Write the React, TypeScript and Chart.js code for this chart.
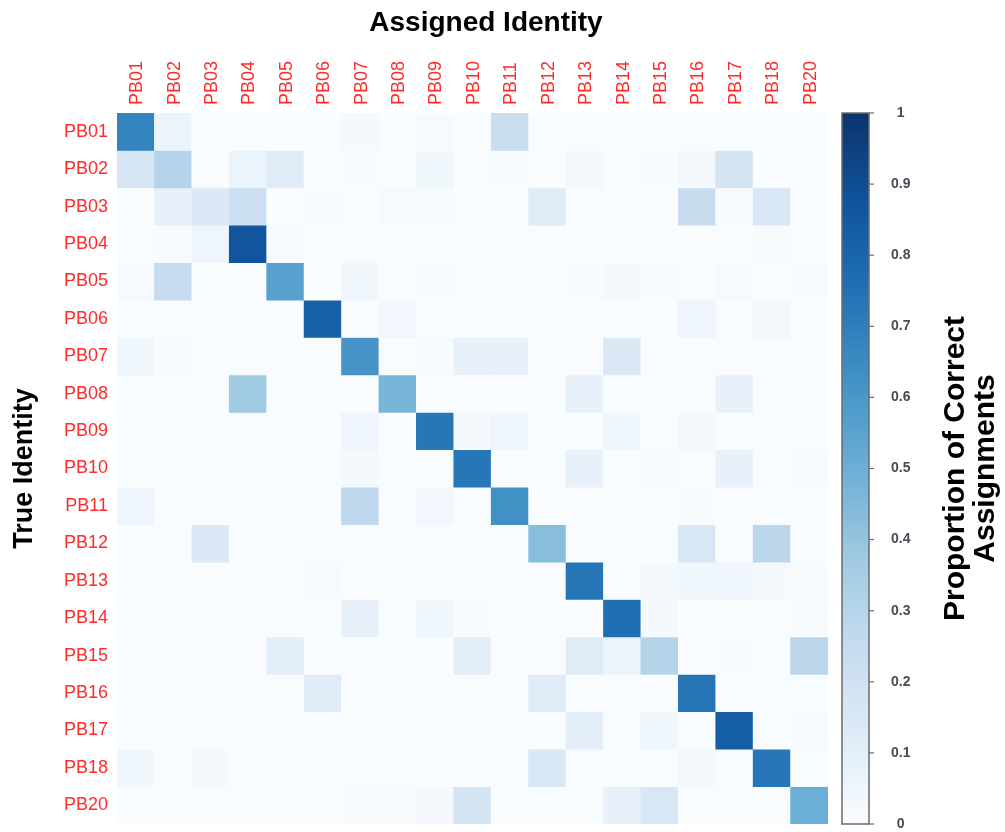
import React, { useEffect, useRef } from 'react';
import { Chart, registerables } from 'chart.js';

Chart.register(...registerables);

const colLabels = ['PB01','PB02','PB03','PB04','PB05','PB06','PB07','PB08','PB09','PB10','PB11','PB12','PB13','PB14','PB15','PB16','PB17','PB18','PB20'];
const rowLabels = ['PB01','PB02','PB03','PB04','PB05','PB06','PB07','PB08','PB09','PB10','PB11','PB12','PB13','PB14','PB15','PB16','PB17','PB18','PB20'];
const colorbarTicks = [0, 0.1, 0.2, 0.3, 0.4, 0.5, 0.6, 0.7, 0.8, 0.9, 1];

const xTitle = 'Assigned Identity';
const yTitle = 'True Identity';
const colorbarTitle = ['Proportion of Correct', 'Assignments'];

// rows = true identity, columns = assigned identity
const rowPB01 = [0.68, 0.06, 0, 0, 0, 0, 0.02, 0, 0.015, 0, 0.23, 0, 0, 0, 0, 0, 0, 0, 0];
const rowPB02 = [0.17, 0.30, 0, 0.06, 0.12, 0, 0.01, 0, 0.04, 0, 0.01, 0, 0.03, 0, 0.01, 0.03, 0.18, 0, 0];
const rowPB03 = [0, 0.08, 0.14, 0.22, 0, 0.01, 0, 0.015, 0.01, 0, 0, 0.12, 0, 0, 0, 0.24, 0.01, 0.16, 0];
const rowPB04 = [0, 0.01, 0.05, 0.87, 0.015, 0, 0, 0, 0, 0, 0, 0, 0, 0, 0, 0, 0, 0.01, 0];
const rowPB05 = [0.015, 0.25, 0, 0, 0.56, 0, 0.04, 0, 0.01, 0, 0, 0, 0.01, 0.02, 0.01, 0, 0.015, 0, 0.01];
const rowPB06 = [0, 0, 0, 0, 0, 0.82, 0, 0.035, 0, 0, 0, 0, 0, 0, 0, 0.05, 0, 0.03, 0];
const rowPB07 = [0.04, 0.01, 0, 0, 0, 0, 0.61, 0, 0.01, 0.08, 0.08, 0, 0, 0.14, 0, 0, 0, 0, 0];
const rowPB08 = [0, 0, 0, 0.37, 0, 0, 0, 0.47, 0, 0, 0, 0, 0.08, 0, 0, 0, 0.08, 0, 0];
const rowPB09 = [0, 0, 0, 0, 0, 0, 0.05, 0, 0.73, 0.02, 0.05, 0, 0, 0.04, 0, 0.03, 0, 0, 0];
const rowPB10 = [0, 0, 0, 0, 0, 0, 0.025, 0, 0, 0.73, 0, 0, 0.08, 0, 0.015, 0, 0.08, 0, 0.01];
const rowPB11 = [0.05, 0, 0, 0, 0, 0, 0.27, 0, 0.035, 0, 0.63, 0, 0, 0, 0, 0.01, 0, 0, 0];
const rowPB12 = [0, 0, 0.14, 0, 0, 0, 0, 0, 0, 0, 0, 0.43, 0, 0, 0, 0.16, 0, 0.28, 0];
const rowPB13 = [0, 0, 0, 0, 0, 0.015, 0, 0, 0, 0, 0, 0, 0.74, 0, 0.03, 0.04, 0.05, 0.02, 0.01];
const rowPB14 = [0, 0, 0, 0, 0, 0, 0.08, 0, 0.04, 0.01, 0, 0, 0, 0.76, 0.025, 0, 0, 0, 0.01];
const rowPB15 = [0, 0, 0, 0, 0.1, 0, 0, 0, 0, 0.1, 0, 0, 0.12, 0.06, 0.3, 0, 0.01, 0, 0.28];
const rowPB16 = [0, 0, 0, 0, 0, 0.12, 0, 0, 0, 0, 0, 0.12, 0, 0, 0, 0.74, 0, 0, 0];
const rowPB17 = [0, 0, 0, 0, 0, 0, 0, 0, 0, 0, 0, 0, 0.1, 0, 0.04, 0, 0.83, 0, 0.015];
const rowPB18 = [0.04, 0, 0.02, 0, 0, 0, 0, 0, 0, 0, 0, 0.15, 0, 0, 0, 0.03, 0, 0.73, 0];
const rowPB20 = [0, 0, 0, 0, 0, 0, 0.01, 0.01, 0.02, 0.18, 0, 0, 0, 0.08, 0.16, 0, 0, 0, 0.5];

const matrix = [rowPB01, rowPB02, rowPB03, rowPB04, rowPB05, rowPB06, rowPB07, rowPB08, rowPB09, rowPB10,
  rowPB11, rowPB12, rowPB13, rowPB14, rowPB15, rowPB16, rowPB17, rowPB18, rowPB20];

const BLUES = ['#f9fcff', '#deebf7', '#c6dbef', '#9ecae1', '#6baed6', '#4292c6', '#2171b5', '#0f549c', '#0b336d'];

function hexToRgb(h: string) {
  const n = parseInt(h.slice(1), 16);
  return [(n >> 16) & 255, (n >> 8) & 255, n & 255];
}

function blues(v: number) {
  const c = Math.max(0, Math.min(1, v));
  const t = c * (BLUES.length - 1);
  const i = Math.min(Math.floor(t), BLUES.length - 2);
  const f = t - i;
  const a = hexToRgb(BLUES[i]);
  const b = hexToRgb(BLUES[i + 1]);
  const rgb = a.map((x, k) => Math.round(x + (b[k] - x) * f));
  return `rgb(${rgb[0]},${rgb[1]},${rgb[2]})`;
}

const FONT = "'Liberation Sans', Arial, Helvetica, sans-serif";

const W = 1005;
const H = 832;
const PLOT_LEFT = 117;
const PLOT_RIGHT = 828;
const PLOT_TOP = 113;
const PLOT_BOTTOM = 824;

function noPad(scale: any) {
  scale.paddingTop = 0;
  scale.paddingBottom = 0;
  scale.paddingLeft = 0;
  scale.paddingRight = 0;
}

const decorPlugin = {
  id: 'decor',
  afterDraw(chart: any) {
    const ctx = chart.ctx;
    const s = chart.scales.y2;
    const top = s.getPixelForValue(1);
    const bottom = s.getPixelForValue(0);
    const x0 = s.left + 14;
    const x1 = s.left + 41;
    ctx.save();
    const g = ctx.createLinearGradient(0, bottom, 0, top);
    BLUES.forEach((c, i) => g.addColorStop(i / (BLUES.length - 1), c));
    ctx.fillStyle = g;
    ctx.fillRect(x0, top, x1 - x0, bottom - top);
    ctx.strokeStyle = '#6b6b6b';
    ctx.lineWidth = 1.5;
    ctx.strokeRect(x0, top, x1 - x0, bottom - top);
    ctx.lineWidth = 1.2;
    colorbarTicks.forEach((v) => {
      const y = s.getPixelForValue(v);
      ctx.beginPath();
      ctx.moveTo(x1, y);
      ctx.lineTo(x1 + 5, y);
      ctx.stroke();
    });

    // colour bar title (reads bottom to top)
    const cy = (top + bottom) / 2;
    ctx.fillStyle = '#000';
    ctx.font = `bold 30px ${FONT}`;
    ctx.textAlign = 'center';
    ctx.textBaseline = 'middle';
    const lineX = [956, 986];
    colorbarTitle.forEach((line, i) => {
      ctx.save();
      ctx.translate(lineX[i], cy);
      ctx.rotate(-Math.PI / 2);
      ctx.fillText(line, 0, 0);
      ctx.restore();
    });

    // top title
    ctx.font = `bold 28px ${FONT}`;
    ctx.fillText(xTitle, 486, 23);
    ctx.restore();
  },
};

export default function App() {
  const ref = useRef<HTMLCanvasElement | null>(null);

  useEffect(() => {
    document.body.style.margin = '0';
    const canvas = ref.current;
    if (!canvas) return;

    const datasets = rowLabels.map((row, r) => ({
      label: row,
      data: colLabels.map(() => [r, r + 1]),
      backgroundColor: matrix[r].map(blues),
      borderWidth: 0,
      barPercentage: 1,
      categoryPercentage: 1,
      grouped: false,
      yAxisID: 'y',
      xAxisID: 'x',
    }));

    const chart = new Chart(canvas, {
      type: 'bar',
      data: { labels: colLabels, datasets: datasets as any },
      options: {
        responsive: false,
        animation: false,
        layout: { padding: { top: 0, left: 0, right: 0, bottom: H - PLOT_BOTTOM } },
        plugins: { legend: { display: false }, tooltip: { enabled: false }, title: { display: false } },
        scales: {
          x: {
            type: 'category',
            position: 'top',
            offset: true,
            grid: { display: false, drawTicks: false },
            border: { display: false },
            ticks: {
              autoSkip: false,
              minRotation: 90,
              maxRotation: 90,
              padding: 8,
              labelOffset: 23,
              color: '#ff2b2b',
              font: { family: FONT, size: 18 },
            },
            afterFit: (scale: any) => { scale.height = PLOT_TOP; noPad(scale); },
          },
          y: {
            type: 'linear',
            position: 'left',
            min: 0,
            max: rowLabels.length,
            reverse: true,
            grid: { display: false, drawTicks: false },
            border: { display: false },
            afterBuildTicks: (axis: any) => {
              axis.ticks = rowLabels.map((_, i) => ({ value: i + 0.5 }));
            },
            ticks: {
              autoSkip: false,
              padding: 9,
              color: '#ff2b2b',
              font: { family: FONT, size: 18 },
              callback: (v: any) => rowLabels[Math.floor(Number(v))] ?? '',
            },
            title: {
              display: true,
              text: yTitle,
              color: '#000',
              font: { family: FONT, size: 27, weight: 'bold' },
              padding: { top: 8, bottom: 0 },
            },
            afterFit: (scale: any) => { scale.width = PLOT_LEFT; noPad(scale); },
          },
          y2: {
            type: 'linear',
            position: 'right',
            min: 0,
            max: 1,
            grid: { display: false, drawTicks: false },
            border: { display: false },
            afterBuildTicks: (axis: any) => {
              axis.ticks = colorbarTicks.map((v) => ({ value: v }));
            },
            ticks: {
              autoSkip: false,
              crossAlign: 'center',
              padding: 63,
              color: '#4a4a55',
              font: { family: FONT, size: 14, weight: 'bold' },
              callback: (v: any) => String(Math.round(Number(v) * 10) / 10),
            },
            afterFit: (scale: any) => { scale.width = W - PLOT_RIGHT; noPad(scale); },
          },
        },
      } as any,
      plugins: [decorPlugin],
    });

    return () => chart.destroy();
  }, []);

  return (
    <div style={{ width: W, height: H, background: '#fff' }}>
      <canvas ref={ref} width={W} height={H} style={{ display: 'block' }} />
    </div>
  );
}
